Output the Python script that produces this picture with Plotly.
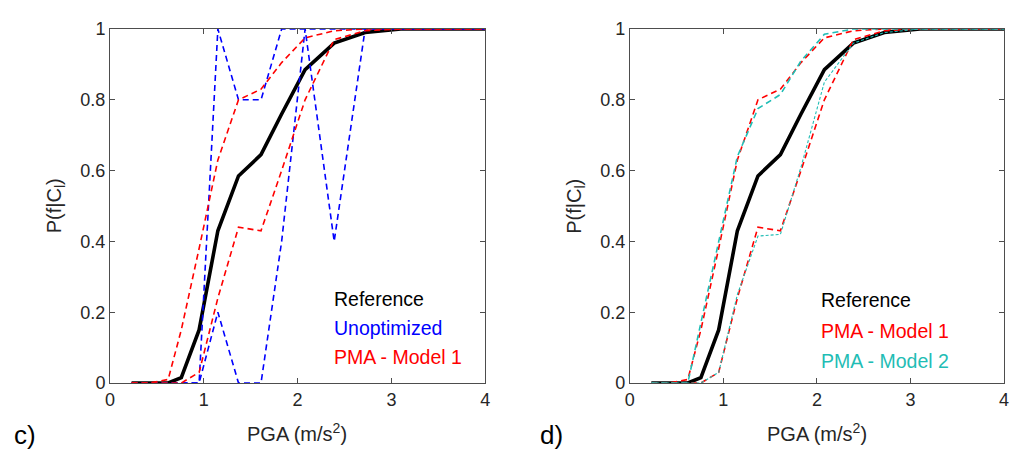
import plotly.graph_objects as go

# ---------------- data ----------------
pga = [0.23, 0.42, 0.62, 0.76, 0.95, 1.15, 1.37, 1.61, 1.83, 2.08, 2.39, 2.72, 3.1, 3.5, 4.0]
reference = [0, 0, 0, 0.015, 0.15, 0.43, 0.585, 0.645, 0.76, 0.885, 0.96, 0.99, 1, 1, 1]
unopt_a = [0, 0, 0, 0, 0, 1, 0.8, 0.8, 1, 1, 1, 1, 1, 1, 1]
unopt_b = [0, 0, 0, 0, 0, 0.2, 0, 0, 0.4, 1, 0.4, 1, 1, 1, 1]
pma1_upper = [0, 0, 0.01, 0.15, 0.38, 0.63, 0.80, 0.83, 0.905, 0.975, 0.995, 1, 1, 1, 1]
pma1_lower = [0, 0, 0, 0, 0.03, 0.24, 0.44, 0.43, 0.60, 0.80, 0.97, 0.995, 1, 1, 1]
pma2_upper = [0, 0, 0, 0.17, 0.40, 0.64, 0.775, 0.815, 0.91, 0.985, 1, 1, 1, 1, 1]
pma2_lower = [0, 0, 0, 0, 0.03, 0.25, 0.415, 0.42, 0.61, 0.85, 0.96, 0.99, 1, 1, 1]

x_ticks = [0, 1, 2, 3, 4]
y_ticks = [0, 0.2, 0.4, 0.6, 0.8, 1]
y_tick_labels = ["0", "0.2", "0.4", "0.6", "0.8", "1"]

legend_left = ["Reference", "Unoptimized", "PMA - Model 1"]
legend_right = ["Reference", "PMA - Model 1", "PMA - Model 2"]
panel_labels = ["c)", "d)"]
x_title = "PGA (m/s<sup>2</sup>)"
y_title = "P(f|C<sub>l</sub>)"

# ---------------- styles ----------------
BLACK = "#000000"
BLUE = "#0000FF"
RED = "#FF0000"
CYAN = "#1FBDB5"
AXIS = "#4d4d4d"
TXT = "#262626"
FONT = "Liberation Sans, Arial, sans-serif"
DASH = "6px,4px"

OFF = 8  # page body margin of the html page
W, H = 1020 - OFF, 454 - OFF
PL, PR, PT, PB = 110, 1008.3, 19.3, 382.7  # plot-area box in page pixels
ML = PL - OFF
MT = PT - OFF
MR = W - (PR - OFF)
MB = H - (PB - OFF)
PW = W - ML - MR
PH = H - MT - MB


def px(xp):
    return (xp - OFF - ML) / PW


def py(yp):
    return (H - MB - (yp - OFF)) / PH


fig = go.Figure()


def line(x, y, color, width, dash=None, xa="x", ya="y"):
    fig.add_trace(go.Scatter(
        x=x, y=y, mode="lines", xaxis=xa, yaxis=ya, showlegend=False,
        line=dict(color=color, width=width, dash=dash), hoverinfo="skip"))


# left panel (c)
line(pga, reference, BLACK, 3.6)
line(pga, unopt_a, BLUE, 1.6, DASH)
line(pga, unopt_b, BLUE, 1.6, DASH)
line(pga, pma1_upper, RED, 1.6, DASH)
line(pga, pma1_lower, RED, 1.6, DASH)

# right panel (d)
line(pga, reference, BLACK, 3.6, None, "x2", "y2")
line(pga, pma1_upper, RED, 1.6, DASH, "x2", "y2")
line(pga, pma1_lower, RED, 1.6, DASH, "x2", "y2")
line(pga, pma2_upper, CYAN, 1.6, DASH, "x2", "y2")
line(pga, pma2_lower, CYAN, 1.1, "3px,2px", "x2", "y2")

axis_common = dict(
    showline=True, linecolor=AXIS, linewidth=1, mirror="ticks",
    ticks="inside", ticklen=5, tickcolor=AXIS, tickwidth=1,
    showgrid=False, zeroline=False,
    tickfont=dict(family=FONT, size=18, color=TXT),
)

left_dom = [0, px(487)]
right_dom = [px(632.3), 1]

fig.update_layout(
    width=W, height=H,
    margin=dict(l=ML, r=MR, t=MT, b=MB, pad=0),
    paper_bgcolor="white", plot_bgcolor="white",
    xaxis=dict(domain=left_dom, range=[0, 4], tickvals=x_ticks, anchor="y", **axis_common),
    yaxis=dict(domain=[0, 1], range=[0, 1], tickvals=y_ticks, ticktext=y_tick_labels, anchor="x", **axis_common),
    xaxis2=dict(domain=right_dom, range=[0, 4], tickvals=x_ticks, anchor="y2", **axis_common),
    yaxis2=dict(domain=[0, 1], range=[0, 1], tickvals=y_ticks, ticktext=y_tick_labels, anchor="x2", **axis_common),
)

ann = []
leg_font = 19.5
left_colors = [BLACK, BLUE, RED]
for i, (t, c) in enumerate(zip(legend_left, left_colors)):
    ann.append(dict(x=px(333), y=py(296 + 30 * i), xref="paper", yref="paper",
                    text=t, showarrow=False, xanchor="left", yanchor="middle",
                    font=dict(family=FONT, size=leg_font, color=c)))
right_colors = [BLACK, RED, CYAN]
for i, (t, c) in enumerate(zip(legend_right, right_colors)):
    ann.append(dict(x=px(822), y=py(298 + 31 * i), xref="paper", yref="paper",
                    text=t, showarrow=False, xanchor="left", yanchor="middle",
                    font=dict(family=FONT, size=leg_font, color=c)))

# axis titles
for xc in (298, 820):
    ann.append(dict(x=px(xc), y=py(434), xref="paper", yref="paper", text=x_title,
                    showarrow=False, xanchor="center", yanchor="middle",
                    font=dict(family=FONT, size=20, color=TXT)))
for xc in (55, 577):
    ann.append(dict(x=px(xc), y=py(201), xref="paper", yref="paper", text=y_title,
                    showarrow=False, xanchor="center", yanchor="middle", textangle=-90,
                    font=dict(family=FONT, size=20, color=TXT)))

# panel labels
for t, xl in zip(panel_labels, (12, 540)):
    ann.append(dict(x=px(xl), y=py(436), xref="paper", yref="paper", text=t,
                    showarrow=False, xanchor="left", yanchor="middle",
                    font=dict(family=FONT, size=26, color=BLACK)))

fig.update_layout(annotations=ann)
fig.write_html("out.html")
